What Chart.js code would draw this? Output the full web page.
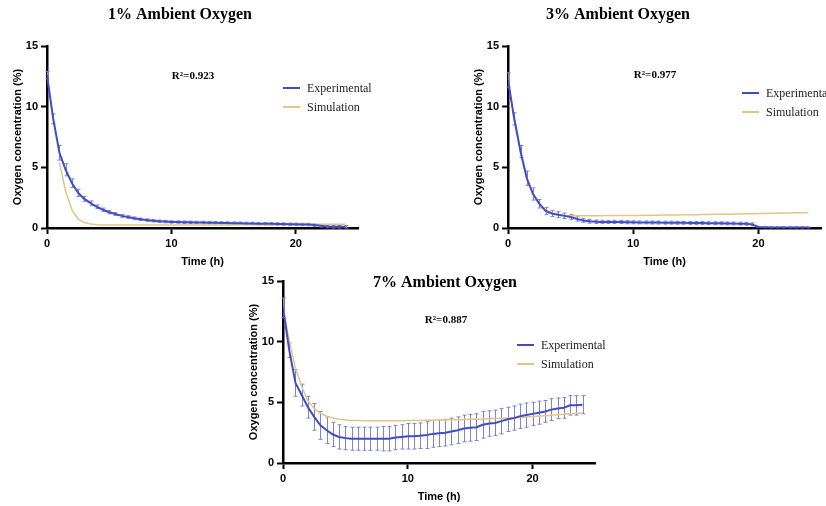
<!DOCTYPE html>
<html>
<head>
<meta charset="utf-8">
<script src="https://cdn.jsdelivr.net/npm/chart.js@4.4.1/dist/chart.umd.min.js"></script>
<style>
html, body { margin: 0; padding: 0; background: #fff; width: 826px; height: 506px; overflow: hidden; position: relative; }
canvas { position: absolute; }
</style>
</head>
<body>
<canvas id="c1" width="385" height="275" style="left:0;top:0"></canvas>
<canvas id="c2" width="396" height="275" style="left:430px;top:0"></canvas>
<canvas id="c3" width="380" height="250" style="left:230px;top:260px"></canvas>
<script>
// time points (h)
const times = [0, 0.5, 1, 1.5, 2, 2.5, 3, 3.5, 4, 4.5, 5, 5.5, 6, 6.5, 7, 7.5, 8, 8.5, 9, 9.5,
  10, 10.5, 11, 11.5, 12, 12.5, 13, 13.5, 14, 14.5, 15, 15.5, 16, 16.5, 17, 17.5, 18, 18.5, 19, 19.5,
  20, 20.5, 21, 21.5, 22, 22.5, 23, 23.5, 24];
const xTicks = [0, 10, 20];
const yTicks = [0, 5, 10, 15];

// 1% ambient oxygen
const exp1 = [12.6, 9.0, 6.2, 4.8, 3.7, 2.9, 2.4, 2.05, 1.75, 1.5, 1.3, 1.15, 1.0, 0.9, 0.8, 0.72, 0.65, 0.6, 0.56, 0.53,
  0.5, 0.49, 0.48, 0.47, 0.46, 0.45, 0.44, 0.43, 0.42, 0.41, 0.4, 0.39, 0.38, 0.37, 0.36, 0.35, 0.34, 0.33, 0.32, 0.31,
  0.3, 0.29, 0.28, 0.24, 0.18, 0.12, 0.1, 0.1, 0.1];
const err1 = [0.3, 0.4, 0.6, 0.5, 0.35, 0.3, 0.2, 0.18, 0.15, 0.14, 0.13, 0.12, 0.12, 0.11, 0.11, 0.1, 0.1, 0.1, 0.1, 0.1,
  0.1, 0.1, 0.1, 0.1, 0.1, 0.1, 0.1, 0.1, 0.1, 0.1, 0.1, 0.1, 0.1, 0.1, 0.1, 0.1, 0.1, 0.1, 0.1, 0.1,
  0.1, 0.1, 0.1, 0.1, 0.1, 0.1, 0.1, 0.1, 0.1];
const sim1 = [null, null, 5.4, 3.0, 1.5, 0.75, 0.45, 0.32, 0.27, 0.25, 0.25, 0.25, 0.25, 0.25, 0.25, 0.25, 0.25, 0.25, 0.25, 0.25,
  0.25, 0.25, 0.25, 0.25, 0.25, 0.25, 0.25, 0.25, 0.25, 0.25, 0.26, 0.26, 0.26, 0.26, 0.27, 0.27, 0.27, 0.28, 0.28, 0.28,
  0.29, 0.29, 0.29, 0.3, 0.3, 0.3, 0.3, 0.3, 0.3];

// 3% ambient oxygen
const exp2 = [12.2, 9.0, 6.3, 4.1, 2.8, 2.0, 1.4, 1.2, 1.1, 1.0, 0.9, 0.75, 0.62, 0.55, 0.52, 0.5, 0.5, 0.5, 0.5, 0.48,
  0.47, 0.46, 0.46, 0.45, 0.45, 0.44, 0.44, 0.43, 0.43, 0.42, 0.42, 0.41, 0.4, 0.4, 0.39, 0.38, 0.37, 0.36, 0.35, 0.3,
  0.08, 0.06, 0.05, 0.05, 0.05, 0.05, 0.05, 0.05, 0.05];
const err2 = [0.6, 0.5, 0.5, 0.6, 0.5, 0.35, 0.3, 0.25, 0.25, 0.22, 0.2, 0.18, 0.15, 0.15, 0.14, 0.14, 0.13, 0.13, 0.13, 0.13,
  0.12, 0.12, 0.12, 0.12, 0.12, 0.12, 0.12, 0.12, 0.12, 0.12, 0.12, 0.12, 0.12, 0.12, 0.12, 0.12, 0.12, 0.12, 0.12, 0.12,
  0.04, 0.04, 0.04, 0.04, 0.04, 0.04, 0.04, 0.04, 0.04];
const sim2 = [12.2, 9.0, 6.3, 4.1, 2.8, 2.0, 1.5, 1.25, 1.1, 1.03, 1.0, 1.0, 1.0, 1.0, 1.01, 1.01, 1.02, 1.02, 1.03, 1.03,
  1.04, 1.04, 1.05, 1.06, 1.06, 1.07, 1.08, 1.08, 1.09, 1.1, 1.1, 1.11, 1.12, 1.13, 1.13, 1.14, 1.15, 1.16, 1.17, 1.18,
  1.19, 1.2, 1.21, 1.22, 1.23, 1.24, 1.25, 1.26, 1.27];

// 7% ambient oxygen
const exp3 = [12.8, 9.3, 6.6, 5.6, 4.6, 3.8, 3.1, 2.7, 2.35, 2.15, 2.05, 2.0, 2.0, 2.0, 2.0, 2.0, 2.0, 2.0, 2.1, 2.15,
  2.2, 2.2, 2.25, 2.3, 2.4, 2.45, 2.5, 2.6, 2.7, 2.85, 2.9, 2.95, 3.15, 3.25, 3.3, 3.45, 3.6, 3.7, 3.85, 3.95,
  4.05, 4.15, 4.25, 4.4, 4.5, 4.55, 4.75, 4.75, 4.8];
const err3 = [0.8, 0.6, 1.1, 0.9, 0.9, 1.1, 1.15, 1.1, 1.0, 1.0, 0.95, 0.95, 0.95, 0.95, 0.95, 0.95, 1.0, 1.0, 1.0, 1.0,
  1.05, 1.05, 1.05, 1.1, 1.1, 1.1, 1.1, 1.1, 1.1, 1.1, 1.1, 1.1, 1.1, 1.05, 1.05, 1.05, 1.0, 1.0, 1.0, 1.0,
  0.95, 0.95, 0.9, 0.9, 0.85, 0.85, 0.8, 0.8, 0.75];
const sim3 = [12.8, 10.1, 7.8, 6.3, 5.1, 4.5, 4.1, 3.85, 3.7, 3.6, 3.55, 3.5, 3.5, 3.48, 3.48, 3.48, 3.48, 3.48, 3.48, 3.49,
  3.5, 3.5, 3.51, 3.52, 3.53, 3.54, 3.55, 3.56, 3.57, 3.58, 3.6, 3.61, 3.62, 3.64, 3.66, 3.68, 3.7, 3.73, 3.76, 3.8,
  3.84, 3.87, 3.9, 3.94, 3.98, 4.02, 4.06, 4.1, 4.13];

const BLUE = '#3f4ec2';
const ERRBLUE = '#7d82d2';
const TAN = '#e2c585';
const sansBold = { family: '"Liberation Sans", Arial, sans-serif', weight: 'bold', size: 11 };

const errorBars = {
    id: 'errorBars',
    beforeDatasetsDraw(chart, args, opts) {
        if (!opts.errors) return;
        const { ctx, scales: { x, y } } = chart;
        const pts = chart.data.datasets[0].data;
        ctx.save();
        ctx.strokeStyle = opts.color;
        ctx.lineWidth = 1;
        pts.forEach((p, i) => {
            const px = Math.round(x.getPixelForValue(p.x)) + 0.5;
            const top = y.getPixelForValue(p.y + opts.errors[i]);
            const bot = y.getPixelForValue(p.y - opts.errors[i]);
            ctx.beginPath();
            ctx.moveTo(px, top); ctx.lineTo(px, bot);
            ctx.moveTo(px - 2, top); ctx.lineTo(px + 2, top);
            ctx.moveTo(px - 2, bot); ctx.lineTo(px + 2, bot);
            ctx.stroke();
        });
        ctx.restore();
    }
};

const panelText = {
    id: 'panelText',
    afterDraw(chart, args, o) {
        const ctx = chart.ctx;
        ctx.save();
        ctx.fillStyle = '#000';
        ctx.textAlign = 'center';
        ctx.textBaseline = 'middle';
        ctx.font = 'bold 16px "Liberation Serif", "Times New Roman", serif';
        ctx.fillText(o.title, o.titleX, o.titleY);
        ctx.font = 'bold 11px "Liberation Serif", "Times New Roman", serif';
        ctx.fillText(o.r2, o.r2X, o.r2Y);
        ctx.textAlign = 'left';
        ctx.font = '12px "Liberation Serif", "Times New Roman", serif';
        chart.data.datasets.forEach((ds, i) => {
            const ly = o.legY + i * 19;
            ctx.strokeStyle = ds.borderColor;
            ctx.lineWidth = 2;
            ctx.beginPath();
            ctx.moveTo(o.legX, ly);
            ctx.lineTo(o.legX + 17, ly);
            ctx.stroke();
            ctx.fillStyle = '#222';
            ctx.fillText(ds.label, o.legX + 24, ly + 1);
        });
        ctx.restore();
    }
};

function makeChart(id, exp, err, sim, padding, text) {
    const canvas = document.getElementById(id);
    return new Chart(canvas.getContext('2d'), {
        type: 'line',
        data: {
            datasets: [{
                label: 'Experimental',
                data: times.map((t, i) => ({ x: t, y: exp[i] })),
                borderColor: BLUE,
                borderWidth: 2,
                pointRadius: 0,
                tension: 0
            }, {
                label: 'Simulation',
                data: times.map((t, i) => ({ x: t, y: sim[i] })),
                borderColor: TAN,
                borderWidth: 1.5,
                pointRadius: 0,
                tension: 0
            }]
        },
        options: {
            responsive: false,
            animation: false,
            layout: { padding: padding },
            scales: {
                x: {
                    type: 'linear',
                    min: 0,
                    max: 25,
                    afterBuildTicks: s => { s.ticks = xTicks.map(v => ({ value: v })); },
                    afterFit: s => { s.height = 47; },
                    grid: { drawOnChartArea: false, tickLength: 6, tickWidth: 2, tickColor: '#000' },
                    border: { color: '#000', width: 2.5 },
                    ticks: { color: '#000', font: sansBold, padding: 3, maxRotation: 0 },
                    title: { display: true, text: 'Time (h)', color: '#000', font: sansBold, padding: { top: 0, bottom: 6 } }
                },
                y: {
                    min: 0,
                    max: 15,
                    afterBuildTicks: s => { s.ticks = yTicks.map(v => ({ value: v })); },
                    afterFit: s => { s.width = 47; },
                    grid: { drawOnChartArea: false, tickLength: 6, tickWidth: 2, tickColor: '#000' },
                    border: { color: '#000', width: 2.5 },
                    ticks: { color: '#000', font: sansBold, padding: 3 },
                    title: { display: true, text: 'Oxygen concentration (%)', color: '#000', font: sansBold, padding: { top: 11, bottom: 0 } }
                }
            },
            plugins: {
                legend: { display: false },
                tooltip: { enabled: false },
                errorBars: { errors: err, color: ERRBLUE },
                panelText: text
            }
        },
        plugins: [errorBars, panelText]
    });
}

makeChart('c1', exp1, err1, sim1, { left: 0, top: 46, right: 27, bottom: 0 },
    { title: '1% Ambient Oxygen', titleX: 180, titleY: 15, r2: 'R\u00b2=0.923', r2X: 193, r2Y: 76, legX: 283, legY: 88 });
makeChart('c2', exp2, err2, sim2, { left: 31, top: 46, right: 5, bottom: 0 },
    { title: '3% Ambient Oxygen', titleX: 188, titleY: 15, r2: 'R\u00b2=0.977', r2X: 225, r2Y: 75, legX: 312, legY: 93 });
makeChart('c3', exp3, err3, sim3, { left: 6, top: 21, right: 15, bottom: 0 },
    { title: '7% Ambient Oxygen', titleX: 215, titleY: 23, r2: 'R\u00b2=0.887', r2X: 216, r2Y: 60, legX: 287, legY: 85 });
</script>
</body>
</html>
